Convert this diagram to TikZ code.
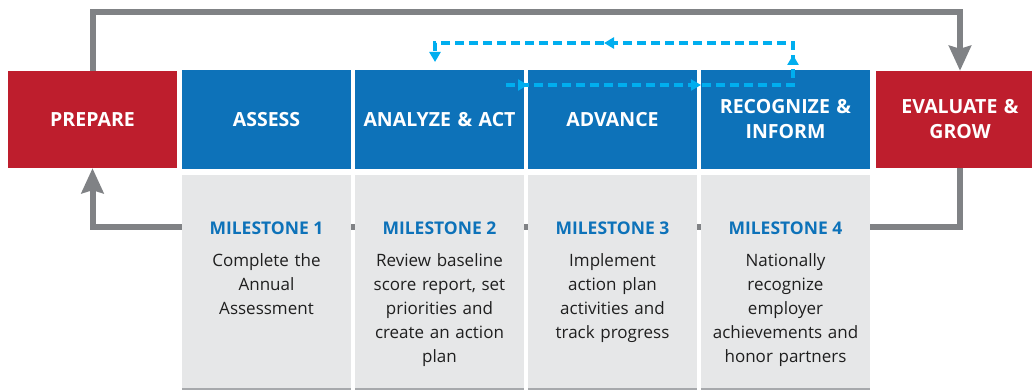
\documentclass[tikz,border=0pt]{standalone}
\usepackage{fontspec}
\setmainfont{Open Sans}
\usetikzlibrary{arrows.meta,positioning,backgrounds,decorations.markings}
\definecolor{cardinal}{RGB}{190,30,45}
\definecolor{cobalt}{RGB}{13,114,185}
\definecolor{sky}{RGB}{0,174,239}
\definecolor{slate}{RGB}{128,130,133}
\definecolor{mist}{RGB}{230,231,232}
\definecolor{rimgray}{RGB}{167,169,172}
\tikzset{
  stage/.style={fill=#1,text=white,inner sep=0pt,minimum width=169pt,minimum height=99pt,
    text width=162pt,align=center,font=\fontsize{19.5}{25}\selectfont\bfseries},
  stage/.default=cobalt,
  card/.style={fill=mist,inner sep=0pt,minimum width=169pt,minimum height=215pt},
  rim/.style={draw=rimgray,line width=2pt},
  mile/.style={font=\fontsize{17.5}{24}\selectfont\bfseries,text=cobalt,inner sep=0pt},
  task/.style={font=\fontsize{17}{24}\selectfont,text=black!88,inner sep=0pt,
    text width=165pt,align=center},
  feedback/.style={draw=slate,line width=6pt,-{Stealth[length=25pt,width=22pt,inset=3pt]}},
  sprint/.style={draw=sky,line width=3.5pt,dash pattern=on 9pt off 5pt,
    -{Triangle[length=10pt,width=11pt]},
    postaction={decorate},
    decoration={markings,
      mark=at position 22pt with {\arrow{Triangle[length=10pt,width=11pt]}},
      mark=at position 195pt with {\arrow{Triangle[length=10pt,width=11pt]}},
      mark=at position 317pt with {\arrow{Triangle[length=10pt,width=11pt]}},
      mark=at position 518pt with {\arrow{Triangle[length=10pt,width=11pt]}}}},
}

\begin{document}
\begin{tikzpicture}[x=1pt,y=-1pt]
  \useasboundingbox (0,0) rectangle (1032,390);
  \clip (0,0) rectangle (1032,390);
  % outer stages
  \node[stage=cardinal,minimum height=97pt] (prep) at (92.5,119.5) {PREPARE};
  \node[stage=cardinal,minimum height=97pt,minimum width=168pt] (eval) at (960,119.5) {EVALUATE \&\\GROW};
  % the four steps
  \node[stage] (assess) at (266.5,119.5) {ASSESS};
  \node[stage] (analyze) at (439.5,119.5) {ANALYZE \& ACT};
  \node[stage] (advance) at (612.5,119.5) {ADVANCE};
  \node[stage] (inform) at (785.5,119.5) {RECOGNIZE \&\\INFORM};
  % milestone cards
  \foreach \n/\x in {1/266.5,2/439.5,3/612.5,4/785.5}{
    \node[card] (card\n) at (\x,282.5) {};
    \draw[rim] ([yshift=1pt]card\n.south west) -- ([yshift=1pt]card\n.south east);
    \node[mile] (mile\n) at (\x,228) {MILESTONE \n};
  }
  \node[task,below=19pt of mile1] (task1) {Complete the\\Annual\\Assessment};
  \node[task,below=19pt of mile2] (task2) {Review baseline\\score report, set\\priorities and\\create an action\\plan};
  \node[task,below=19pt of mile3] (task3) {Implement\\action plan\\activities and\\track progress};
  \node[task,below=19pt of mile4] (task4) {Nationally\\recognize\\employer\\achievements and\\honor partners};
  % yearly cycle
  \draw[feedback] (prep.north) -- ++(0,-59) -| (eval.north);
  \begin{scope}[on background layer]
    \draw[feedback] (eval.south) -- ++(0,59) -| (prep.south);
  \end{scope}
  % inner loop
  \coordinate (sprint in) at (506,85);
  \coordinate (sprint top) at (793,43);
  \coordinate (sprint out) at (435,62);
  \draw[sprint] (sprint in) -| (sprint top) -| (sprint out);
\end{tikzpicture}
\end{document}
